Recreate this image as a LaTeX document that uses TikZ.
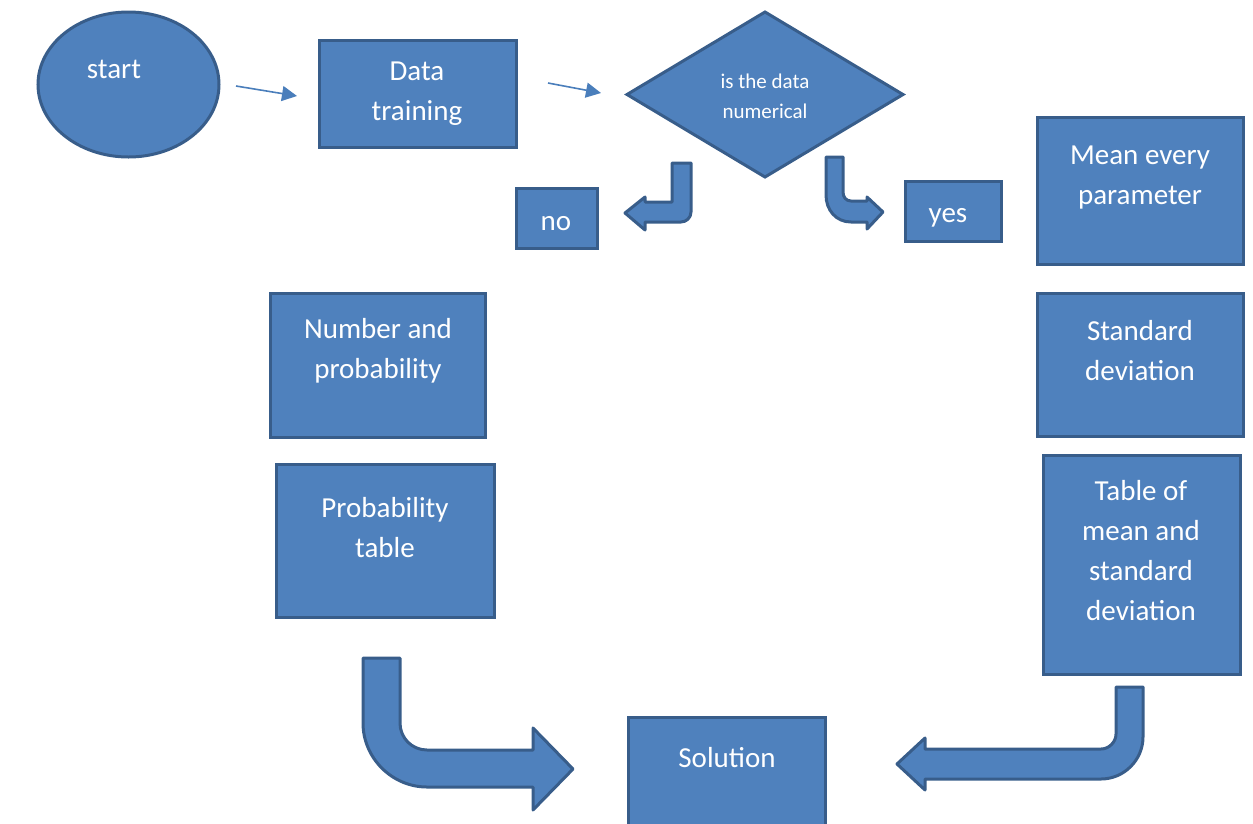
\documentclass[tikz,border=0pt]{standalone}
\usepackage{fontspec}
\setmainfont{Carlito}
\usetikzlibrary{shapes.geometric,arrows.meta}
\definecolor{boxfill}{HTML}{4F81BD}
\definecolor{boxline}{HTML}{385D8A}
\definecolor{thinarrow}{HTML}{4A7EBB}
\begin{document}
\begin{tikzpicture}[x=1pt,y=-1pt,
  shapebase/.style={fill=boxfill,draw=boxline,line width=3pt,inner sep=0pt,outer sep=0pt},
  box/.style={shapebase,rectangle},
  lbl/.style={text=white,align=center,inner sep=0pt,font=\fontsize{29}{40}\selectfont},
  smalllbl/.style={text=white,align=center,inner sep=0pt,font=\fontsize{21}{30}\selectfont},
  thin/.style={draw=thinarrow,line width=1.6pt,-{Triangle[length=15pt,width=15pt]}},
  blockarrow/.style={fill=boxfill,draw=boxline,line width=3pt,line join=round}]
\useasboundingbox (0,0) rectangle (1253,823);

% shapes
\node[shapebase,ellipse,minimum width=181,minimum height=145] (start) at (128.5,84.5) {};
\node[box,minimum width=197,minimum height=107] (data) at (417.5,93.5) {};
\node[shapebase,diamond,minimum width=276,minimum height=165] (dec) at (765,94.5) {};
\node[box,minimum width=81,minimum height=60] (no) at (556.5,218) {};
\node[box,minimum width=96,minimum height=60] (yes) at (953,211) {};
\node[box,minimum width=206,minimum height=147] (mean) at (1140,190.5) {};
\node[box,minimum width=206,minimum height=143] (std) at (1140,364.5) {};
\node[box,minimum width=197,minimum height=219] (table) at (1141.5,564.5) {};
\node[box,minimum width=215,minimum height=144] (num) at (377.5,365) {};
\node[box,minimum width=218,minimum height=153] (prob) at (385,540.5) {};
\node[box,minimum width=197,minimum height=113] (sol) at (726.5,773.5) {};

% texts
\node[lbl] (tstart) at (114,69) {start};
\node[lbl] (tdata) at (417,93.5) {Data\\training};
\node[smalllbl] (tdec) at (765,96) {is the data\\numerical};
\node[lbl] (tno) at (556,224) {no};
\node[lbl] (tyes) at (948,218) {yes};
\node[lbl] (tmean) at (1140,177.5) {Mean every\\parameter};
\node[lbl] (tstd) at (1140,350.5) {Standard\\deviation};
\node[lbl] (ttable) at (1141,550.5) {Table of\\mean and\\standard\\deviation};
\node[lbl] (tnum) at (378,350.5) {Number and\\probability};
\node[lbl] (tprob) at (385,527.5) {Probability\\table};
\node[lbl] (tsol) at (727,758) {Solution};

% thin connectors
\coordinate (a1s) at (236,86);
\coordinate (a1e) at (297,96);
\coordinate (a2s) at (548,83);
\coordinate (a2e) at (601,93);
\draw[thin] (a1s) -- (a1e);
\draw[thin] (a2s) -- (a2e);

% block arrow: to "no"
\draw[blockarrow] (672,163) -- (691,163) -- (691,212)
  .. controls (691,218) and (686,222) .. (681,222) -- (645,222) -- (645,230)
  -- (625,213) -- (645,197) -- (645,202) -- (672,202) -- cycle;
% block arrow: to "yes"
\draw[blockarrow] (826,157) -- (843,157) -- (843,192)
  .. controls (843,197) and (846,201) .. (851,201) -- (867,201) -- (867,197)
  -- (883,212) -- (867,229) -- (867,222) -- (851,222)
  .. controls (836,222) and (826,210) .. (826,195) -- cycle;
% big block arrow left
\draw[blockarrow] (363,658) -- (400,658) -- (400,723)
  .. controls (400,738) and (412,750) .. (427,750) -- (533,750) -- (533,728)
  -- (573,769) -- (533,810) -- (533,787) -- (427,787)
  .. controls (392,787) and (363,758) .. (363,723) -- cycle;
% big block arrow right
\draw[blockarrow] (1116,687) -- (1143,687) -- (1143,737)
  .. controls (1143,760) and (1124,779) .. (1101,779) -- (925,779) -- (925,790)
  -- (897,764) -- (925,738) -- (925,749) -- (1101,749)
  .. controls (1109,749) and (1116,742) .. (1116,734) -- cycle;
\end{tikzpicture}
\end{document}
